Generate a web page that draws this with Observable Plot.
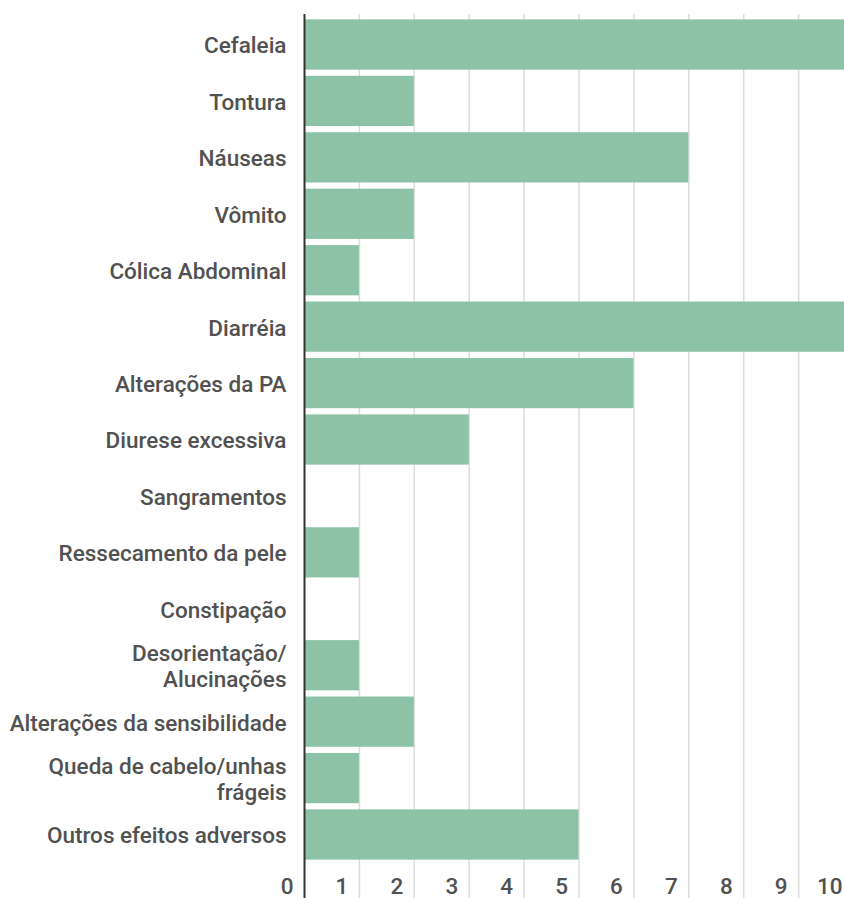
<!DOCTYPE html>
<html><head><meta charset="utf-8">
<script src="https://cdn.jsdelivr.net/npm/d3@7"></script>
<script src="https://cdn.jsdelivr.net/npm/@observablehq/plot@0.6"></script>
<style>html,body{margin:0;padding:0;background:#fff;overflow:hidden}</style>
</head><body><div id="chart"></div>
<script>
const categories = [
  "Cefaleia", "Tontura", "Náuseas", "Vômito", "Cólica Abdominal", "Diarréia",
  "Alterações da PA", "Diurese excessiva", "Sangramentos", "Ressecamento da pele",
  "Constipação", "Desorientação/\nAlucinações", "Alterações da sensibilidade",
  "Queda de cabelo/unhas\nfrágeis", "Outros efeitos adversos"
];
const values = [10, 2, 7, 2, 1, 10, 6, 3, 0, 1, 0, 1, 2, 1, 5];
const xTicks = [0, 1, 2, 3, 4, 5, 6, 7, 8, 9, 10];
const data = categories.map((c, i) => ({category: c, value: values[i]}));

const chart = Plot.plot({
  width: 844, height: 898,
  marginTop: 14, marginBottom: 35, marginLeft: 304, marginRight: 0,
  style: {fontFamily: "Roboto, sans-serif", fontSize: "22.5px", fontWeight: 500, color: "#515151", background: "#fff", overflow: "hidden"},
  x: {domain: [0, 10], range: [304, 853]},
  y: {domain: categories, range: [16, 863], round: false, paddingInner: 0.11, paddingOuter: 0.06},
  marks: [
    Plot.gridX(xTicks.slice(1), {stroke: "#dcdcdc", strokeOpacity: 1, strokeWidth: 1.5, insetBottom: -35}),
    Plot.barX(data, {x: "value", y: "category", fill: "#8cc2a5"}),
    Plot.ruleX([0], {stroke: "#333", strokeWidth: 2, insetBottom: -35}),
    Plot.axisY({tickSize: 0, tickPadding: 18, lineHeight: 1.17, label: null, fontSize: 22.5}),
    Plot.axisX(xTicks, {tickSize: 0, tickPadding: 15, textAnchor: "end", dx: -11, label: null, fontSize: 22.5})
  ]
});
document.getElementById("chart").appendChild(chart);
</script>
</body></html>
